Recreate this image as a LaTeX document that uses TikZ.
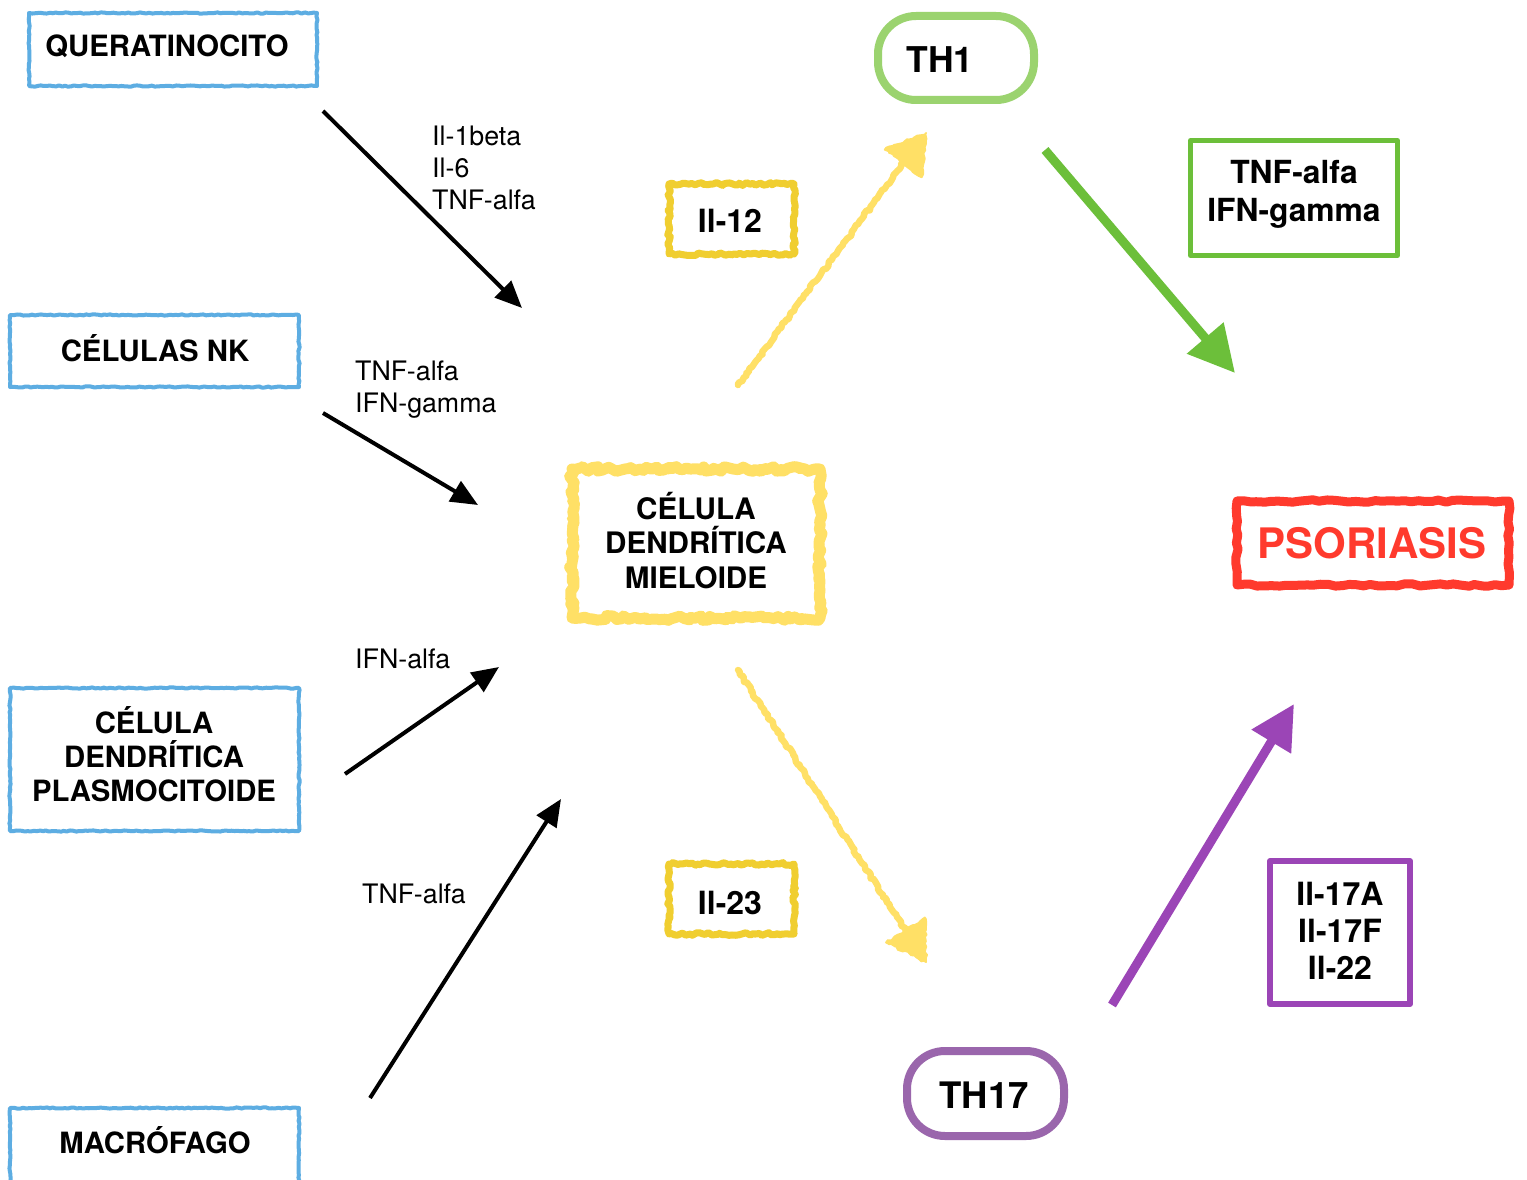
\documentclass[tikz,border=0pt]{standalone}
\usepackage{fontspec}
\setmainfont{TeX Gyre Heros}
\usetikzlibrary{arrows.meta,calc,decorations.pathmorphing}
\definecolor{cblue}{HTML}{5DADE2}
\definecolor{cyel}{HTML}{FFE066}
\definecolor{cyeld}{HTML}{F0CE30}
\definecolor{cgreenl}{HTML}{9BD36F}
\definecolor{cgreen}{HTML}{6CBF3A}
\definecolor{cred}{HTML}{FF3A2D}
\definecolor{cpurl}{HTML}{9A66AC}
\definecolor{cpur}{HTML}{9B45B6}
\begin{document}
\begin{tikzpicture}[x=1pt,y=-1pt,
  frame/.style={inner sep=0pt, outer sep=0pt},
  box/.style={inner sep=0pt, outer sep=0pt, align=center, font=\bfseries\fontsize{29.3}{34}\selectfont},
  lbl/.style={inner sep=0pt, anchor=west, align=left, font=\fontsize{26.8}{32}\selectfont},
  roughb/.style={decorate, decoration={random steps, segment length=3pt, amplitude=0.6pt}},
  roughy/.style={decorate, decoration={random steps, segment length=4pt, amplitude=2.4pt}},
  roughs/.style={decorate, decoration={random steps, segment length=3pt, amplitude=1.4pt}},
  roughr/.style={decorate, decoration={random steps, segment length=7pt, amplitude=1.2pt}},
  blk/.style={line width=4pt, -{Triangle[length=27pt,width=23pt]}},
  line join=round]
\pgfmathsetseed{7}
\useasboundingbox (0,0) rectangle (1527,1180);
\fill[white] (0,0) rectangle (1527,1180);

% left blue boxes
\node[frame, minimum width=288, minimum height=73] (quer) at (173,49.5) {};
\node[box] (quert) at (167,46) {QUERATINOCITO};
\draw[cblue, line width=4pt, roughb] (quer.north west) rectangle (quer.south east);
\node[frame, minimum width=289, minimum height=72] (nk) at (154.5,351) {};
\node[box] (nkt) at (155,348) {CÉLULAS NK};
\draw[cblue, line width=4pt, roughb] (nk.north west) rectangle (nk.south east);
\node[frame, minimum width=289, minimum height=143] (plas) at (154.5,759.5) {};
\node[box] (plast) at (154,754) {CÉLULA\\DENDRÍTICA\\PLASMOCITOIDE};
\draw[cblue, line width=4pt, roughb] (plas.north west) rectangle (plas.south east);
\node[frame, minimum width=289, minimum height=76] (macr) at (154.5,1146) {};
\node[box] (macrt) at (155,1140) {MACRÓFAGO};
\draw[cblue, line width=4pt, roughb] (macr.north west) rectangle (macr.south east);

% mieloide
\node[frame, minimum width=248, minimum height=149] (miel) at (696,543.5) {};
\node[box, font=\bfseries\fontsize{29.6}{34.5}\selectfont] (mielt) at (696,540.5) {CÉLULA\\DENDRÍTICA\\MIELOIDE};
\draw[cyel, line width=11pt, roughy] (miel.north west) rectangle (miel.south east);
\draw[cyel, line width=6pt, roughy] (miel.north west) rectangle (miel.south east);

% Il-12, Il-23
\node[frame, minimum width=125, minimum height=70] (il12) at (731.5,219) {};
\node[box, font=\bfseries\fontsize{32}{36}\selectfont] (il12t) at (730,221) {Il-12};
\draw[cyeld, line width=7pt, roughs] (il12.north west) rectangle (il12.south east);
\node[frame, minimum width=125, minimum height=70] (il23) at (731.5,899) {};
\node[box, font=\bfseries\fontsize{32}{36}\selectfont] (il23t) at (730,903) {Il-23};
\draw[cyeld, line width=7pt, roughs] (il23.north west) rectangle (il23.south east);

% TH1, TH17
\node[frame, draw=cgreenl, line width=8pt, rounded corners=38pt, minimum width=156, minimum height=84] (th1) at (956,58) {};
\node[box, font=\bfseries\fontsize{35.5}{40}\selectfont] (th1t) at (940,60) {TH1};
\node[frame, draw=cpurl, line width=8pt, rounded corners=38pt, minimum width=157, minimum height=85] (th17) at (985.5,1093.5) {};
\node[box, font=\bfseries\fontsize{36.5}{40}\selectfont] (th17t) at (984,1095) {TH17};

% right boxes
\node[frame, draw=cgreen, line width=5pt, minimum width=207, minimum height=115] (tnf) at (1294,198) {};
\node[box, font=\bfseries\fontsize{31.8}{38}\selectfont] (tnft) at (1294,194) {TNF-alfa\\IFN-gamma};
\node[frame, draw=cpur, line width=6pt, minimum width=140, minimum height=143] (il17) at (1340,932.5) {};
\node[box, font=\bfseries\fontsize{32}{37}\selectfont] (il17t) at (1340,931) {Il-17A\\Il-17F\\Il-22};
\node[frame, minimum width=272, minimum height=84] (pso) at (1373,543) {};
\node[box, font=\bfseries\fontsize{42}{46}\selectfont, text=cred] (psot) at (1372,543) {PSORIASIS};
\draw[cred, line width=9pt, roughr] (pso.north west) rectangle (pso.south east);

% labels
\node[lbl] (l1) at (432,168) {Il-1beta\\Il-6\\TNF-alfa};
\node[lbl] (l2) at (355,390) {TNF-alfa\\IFN-gamma};
\node[lbl] (l3) at (355,659) {IFN-alfa};
\node[lbl] (l4) at (362,894) {TNF-alfa};

% black arrows
\coordinate (a1s) at (323,111); \coordinate (a1e) at (522,308);
\coordinate (a2s) at (323,413); \coordinate (a2e) at (478,505);
\coordinate (a3s) at (345,774); \coordinate (a3e) at (499,667);
\coordinate (a4s) at (370,1098); \coordinate (a4e) at (561,799);
\draw[blk] (a1s) -- (a1e);
\draw[blk] (a2s) -- (a2e);
\draw[blk] (a3s) -- (a3e);
\draw[blk] (a4s) -- (a4e);

% yellow crayon arrows
\coordinate (y1s) at (738,385); \coordinate (y1e) at (926,133);
\coordinate (y2s) at (738,670); \coordinate (y2e) at (926,962);
\draw[cyel, line width=6.5pt, roughs, line cap=round] (y1s) -- ($(y1e)!30pt!(y1s)$);
\coordinate (y1b) at ($(y1e)!38pt!(y1s)$);
\filldraw[cyel, line width=2pt, roughs] (y1e) -- ($(y1b)!23pt!90:(y1e)$) -- ($(y1b)!23pt!-90:(y1e)$) -- cycle;
\draw[cyel, line width=6.5pt, roughs, line cap=round] (y2s) -- ($(y2e)!30pt!(y2s)$);
\coordinate (y2b) at ($(y2e)!38pt!(y2s)$);
\filldraw[cyel, line width=2pt, roughs] (y2e) -- ($(y2b)!23pt!90:(y2e)$) -- ($(y2b)!23pt!-90:(y2e)$) -- cycle;

% green and purple arrows
\coordinate (gs) at (1045,150); \coordinate (ge) at (1235,373);
\draw[cgreen, line width=9pt, -{Triangle[length=46pt,width=46pt]}] (gs) -- (ge);
\coordinate (ps) at (1112,1005); \coordinate (pe) at (1294,704);
\draw[cpur, line width=9pt, -{Triangle[length=44pt,width=44pt]}] (ps) -- (pe);
\end{tikzpicture}
\end{document}
